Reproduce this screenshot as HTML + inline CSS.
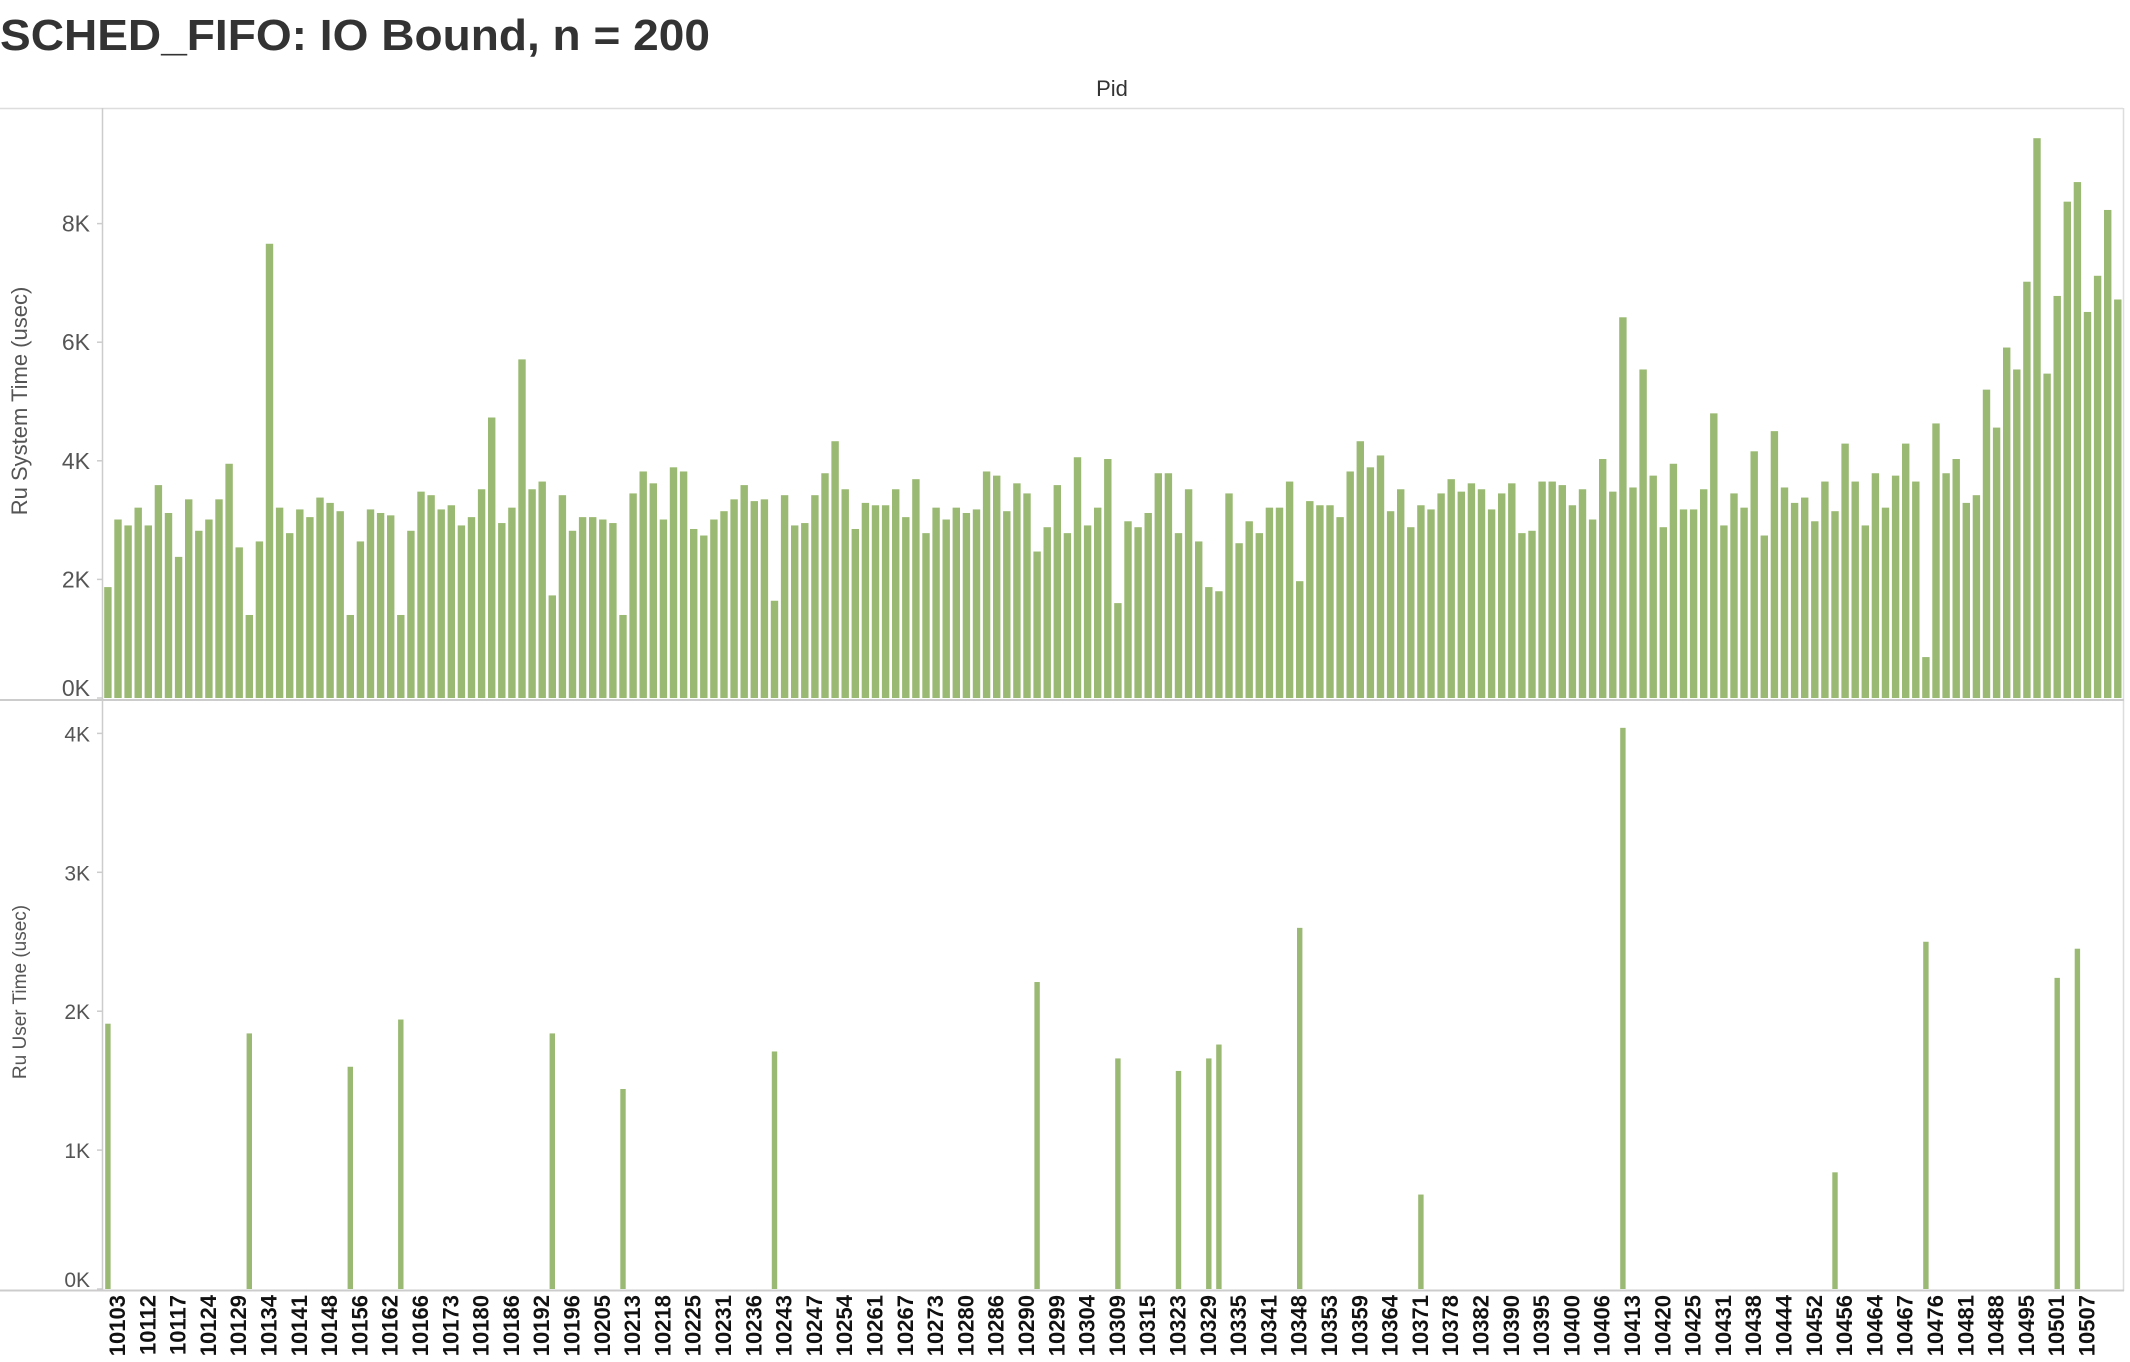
<!DOCTYPE html>
<html><head><meta charset="utf-8"><style>
html,body{margin:0;padding:0;background:#fff;}
svg{display:block;font-family:"Liberation Sans",sans-serif;}
</style></head><body>
<svg id="chart" width="2130" height="1362" viewBox="0 0 2130 1362" xmlns="http://www.w3.org/2000/svg">
<text x="0" y="50" font-size="44" font-weight="bold" fill="#333" textLength="710" lengthAdjust="spacingAndGlyphs">SCHED_FIFO: IO Bound, n = 200</text>
<text x="1112" y="96" font-size="22" fill="#333" text-anchor="middle">Pid</text>
<g id="frame"></g>
<g id="toppanel"></g>
<g id="botpanel"></g>
<g id="xl"></g>
<text transform="translate(27,401) rotate(-90)" font-size="22" fill="#555" text-anchor="middle">Ru System Time (usec)</text>
<text transform="translate(26,992) rotate(-90)" font-size="19" fill="#555" text-anchor="middle">Ru User Time (usec)</text>
</svg>
<script>
const sysValues=[1.87,3.01,2.91,3.21,2.91,3.59,3.12,2.38,3.35,2.82,3.01,3.35,3.95,2.54,1.40,2.64,7.66,3.21,2.78,3.18,3.05,3.38,3.29,3.15,1.40,2.64,3.18,3.12,3.08,1.40,2.82,3.48,3.42,3.18,3.25,2.91,3.05,3.52,4.73,2.95,3.21,5.71,3.52,3.65,1.73,3.42,2.82,3.05,3.05,3.01,2.95,1.40,3.45,3.82,3.62,3.01,3.89,3.82,2.85,2.74,3.01,3.15,3.35,3.59,3.32,3.35,1.64,3.42,2.91,2.95,3.42,3.79,4.33,3.52,2.85,3.29,3.25,3.25,3.52,3.05,3.69,2.78,3.21,3.01,3.21,3.12,3.18,3.82,3.75,3.15,3.62,3.45,2.47,2.88,3.59,2.78,4.06,2.91,3.21,4.03,1.60,2.98,2.88,3.12,3.79,3.79,2.78,3.52,2.64,1.87,1.80,3.45,2.61,2.98,2.78,3.21,3.21,3.65,1.97,3.32,3.25,3.25,3.05,3.82,4.33,3.89,4.09,3.15,3.52,2.88,3.25,3.18,3.45,3.69,3.48,3.62,3.52,3.18,3.45,3.62,2.78,2.82,3.65,3.65,3.59,3.25,3.52,3.01,4.03,3.48,6.42,3.55,5.54,3.75,2.88,3.95,3.18,3.18,3.52,4.80,2.91,3.45,3.21,4.16,2.74,4.50,3.55,3.29,3.38,2.98,3.65,3.15,4.29,3.65,2.91,3.79,3.21,3.75,4.29,3.65,0.69,4.63,3.79,4.03,3.29,3.42,5.20,4.56,5.91,5.54,7.02,9.44,5.47,6.78,8.37,8.70,6.51,7.12,8.23,6.72];
const userBarIndex=[1,15,25,30,45,52,67,93,101,107,110,111,119,131,151,172,181,194,196];
const userValues=[1.91,1.84,1.60,1.94,1.84,1.44,1.71,2.21,1.66,1.57,1.66,1.76,2.60,0.68,4.04,0.84,2.50,2.24,2.45];
const xLabels=["10103","10112","10117","10124","10129","10134","10141","10148","10156","10162","10166","10173","10180","10186","10192","10196","10205","10213","10218","10225","10231","10236","10243","10247","10254","10261","10267","10273","10280","10286","10290","10299","10304","10309","10315","10323","10329","10335","10341","10348","10353","10359","10364","10371","10378","10382","10390","10395","10400","10406","10413","10420","10425","10431","10438","10444","10452","10456","10464","10467","10476","10481","10488","10495","10501","10507"];
const sysTicks=[0,2,4,6,8];
const userTicks=[0,1,2,3,4];
const NS="http://www.w3.org/2000/svg";
const X0=103,X1=2123,N=200,STEP=(X1-X0)/N,BW=7.4;
function xLeft(i){return X0+(i-1)*STEP+1.2;}
function ySys(v){return 698-v*59.3;}
function yUser(v){return 1289-v*138.9;}
function mk(tag,attrs,parent){const e=document.createElementNS(NS,tag);for(const k in attrs)e.setAttribute(k,attrs[k]);parent.appendChild(e);return e;}
const gFrame=document.getElementById('frame'),gTop=document.getElementById('toppanel'),gBot=document.getElementById('botpanel'),gX=document.getElementById('xl');
let l;
l=mk('line',{x1:0,y1:108.5,x2:2123,y2:108.5,stroke:'#ddd','stroke-width':1.5},gFrame);

l=mk('line',{x1:102.5,y1:108,x2:102.5,y2:1291,stroke:'#ccc','stroke-width':1.5},gFrame);

l=mk('line',{x1:2123.5,y1:108,x2:2123.5,y2:1291,stroke:'#ddd','stroke-width':1.5},gFrame);

l=mk('line',{x1:0,y1:700,x2:2124,y2:700,stroke:'#ccc','stroke-width':2},gFrame);

l=mk('line',{x1:0,y1:1290.5,x2:2124,y2:1290.5,stroke:'#ccc','stroke-width':2},gFrame);

sysTicks.forEach(t=>{const y=ySys(t);
 const tk=mk('line',{x1:97,y1:y,x2:103,y2:y,stroke:'#ccc','stroke-width':1.5},gTop);
 
 const tx=mk('text',{x:90,y:y+(t===0?-2:8),'font-size':23,fill:'#555','text-anchor':'end'},gTop);
 tx.textContent=t+'K';});
userTicks.forEach(t=>{const y=yUser(t);
 const tk=mk('line',{x1:97,y1:y,x2:103,y2:y,stroke:'#ccc','stroke-width':1.5},gBot);
 
 const tx=mk('text',{x:90,y:y+(t===0?-2:8),'font-size':21,fill:'#555','text-anchor':'end'},gBot);
 tx.textContent=t+'K';});
sysValues.forEach((v,k)=>{const i=k+1;const y=ySys(v);
 const r=mk('rect',{x:xLeft(i),y:y,width:BW,height:698-y,fill:'#9ab972'},gTop);
 });
userValues.forEach((v,k)=>{const i=userBarIndex[k];const y=yUser(v);
 const r=mk('rect',{x:xLeft(i)+1,y:y,width:BW-2,height:1289-y,fill:'#9ab972'},gBot);
 });
xLabels.forEach((s,k)=>{const i=2+3*k;const cx=xLeft(i)+BW/2;
 const tx=mk('text',{transform:`translate(${cx+7},1295) rotate(-90)`,'font-size':22,'font-weight':'bold',fill:'#111','text-anchor':'end'},gX);
 tx.textContent=s;});
</script>
</body></html>
